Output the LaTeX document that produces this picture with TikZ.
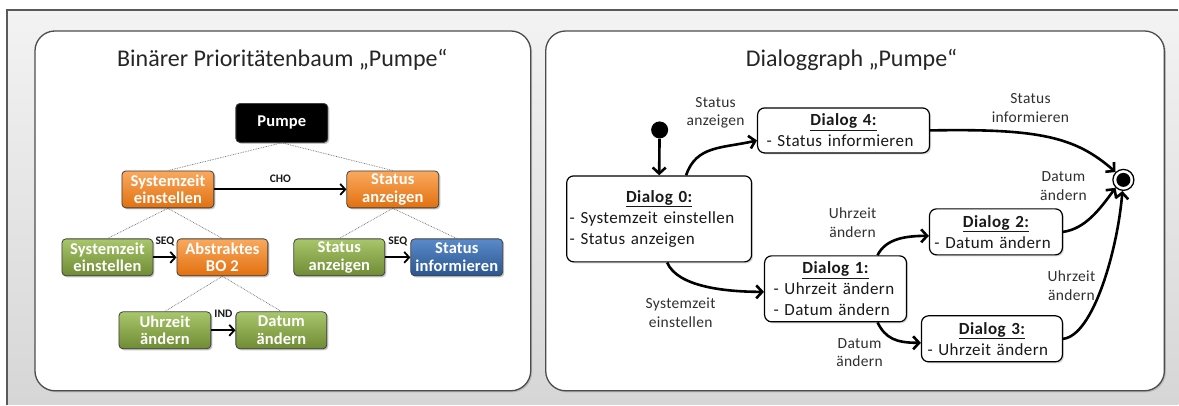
\documentclass[tikz,border=0pt]{standalone}
\usepackage{fontspec}
\setmainfont{Carlito}
\newfontfamily\dlgfont[LetterSpace=2.5]{Carlito}
\newfontfamily\lblfont[LetterSpace=2]{Carlito}
\newfontfamily\trfont[LetterSpace=1]{Carlito}
\usetikzlibrary{arrows.meta,shadows,calc}
\definecolor{orT}{HTML}{FAA95E}
\definecolor{orB}{HTML}{E2700F}
\definecolor{grT}{HTML}{A8C66A}
\definecolor{grB}{HTML}{6F8B35}
\definecolor{blT}{HTML}{5A8ACA}
\definecolor{blB}{HTML}{2A5690}
\definecolor{bgT}{HTML}{F3F3F3}
\definecolor{bgB}{HTML}{D6D6D6}
\definecolor{lbl}{HTML}{303030}
\newcommand{\dtitle}[1]{\makebox[\hsize][c]{\textbf{\underline{#1}}}}
\begin{document}
\begin{tikzpicture}[x=1pt,y=-1pt,
  panel/.style={draw=black!70, line width=1.3pt, fill=white, rounded corners=20pt,
    drop shadow={opacity=0.35, shadow xshift=1.5pt, shadow yshift=-1.5pt}},
  ttl/.style={font=\fontsize{24}{28}\selectfont, text=black!85},
  tbox/.style={draw=black!75, line width=0.8pt, rounded corners=4pt, minimum width=92pt,
    minimum height=37pt, inner sep=1pt, text=white, align=center,
    font=\trfont\fontsize{16.5}{17.5}\selectfont\bfseries,
    drop shadow={opacity=0.45, shadow xshift=1.5pt, shadow yshift=-1.5pt}},
  boxor/.style={tbox, top color=orT, bottom color=orB},
  boxgr/.style={tbox, top color=grT, bottom color=grB},
  boxbl/.style={tbox, top color=blT, bottom color=blB},
  boxbk/.style={tbox, fill=black, minimum height=39pt},
  treeln/.style={draw=black!60, densely dotted, line width=0.7pt},
  tarr/.style={draw=black, line width=1.8pt, -{Straight Barb[length=5pt,width=11pt]}},
  tlab/.style={font=\fontsize{11.5}{12}\selectfont\bfseries, text=black!90, inner sep=0pt},
  dbox/.style={draw=black, line width=1.2pt, fill=white, rounded corners=7pt,
    inner ysep=1pt, align=left,
    font=\dlgfont\fontsize{17}{21}\selectfont, text=black!90,
    drop shadow={opacity=0.3, shadow xshift=1.5pt, shadow yshift=-1.5pt}},
  darr/.style={draw=black, line width=2.6pt, -{Straight Barb[length=6pt,width=13pt]}},
  dlab/.style={font=\lblfont\fontsize{15.5}{18.5}\selectfont, text=lbl, align=center, inner sep=0pt}
]
% background
\fill[white] (0,0) rectangle (1179,405);
\shade[top color=bgT, bottom color=bgB] (7,10) rectangle (1179,405);
\draw[black!65, line width=1.3pt] (7,405) -- (7,10) -- (1179,10);

% panels
\draw[panel] (35,31) rectangle (531,391);
\draw[panel] (546,31) rectangle (1165,391);

\node[ttl] (t1) at (282.5,60) {Binärer Prioritätenbaum „Pumpe“};
\node[ttl] (t2) at (852,60) {Dialoggraph „Pumpe“};

% ---------------- tree
\node[boxbk] (pumpe) at (282,123) {Pumpe};
\node[boxor] (sys1) at (168,189.5) {Systemzeit\\einstellen};
\node[boxor] (stat1) at (393,189.5) {Status\\anzeigen};
\node[boxgr, minimum width=91pt] (sys2) at (107.5,257.5) {Systemzeit\\einstellen};
\node[boxor, minimum width=91pt] (abs) at (222.5,257.5) {Abstraktes\\BO 2};
\node[boxgr, minimum width=91pt] (stat2) at (339.5,257.5) {Status\\anzeigen};
\node[boxbl] (info) at (457,257.5) {Status\\informieren};
\node[boxgr] (uhr) at (165,330.5) {Uhrzeit\\ändern};
\node[boxgr, minimum width=91pt] (dat) at (281.5,330.5) {Datum\\ändern};

\draw[treeln] (pumpe.south) -- (sys1.north);
\draw[treeln] (pumpe.south) -- (stat1.north);
\draw[treeln] (sys1.south) -- (sys2.north);
\draw[treeln] (sys1.south) -- (abs.north);
\draw[treeln] (stat1.south) -- (stat2.north);
\draw[treeln] (stat1.south) -- (info.north);
\draw[treeln] (abs.south) -- (uhr.north);
\draw[treeln] (abs.south) -- (dat.north);

\draw[tarr] (sys1) -- node[tlab, yshift=11pt] (cho) {CHO} (stat1);
\draw[tarr] (sys2) -- node[tlab, yshift=16pt] (seq1) {SEQ} (abs);
\draw[tarr] (stat2) -- node[tlab, yshift=16pt] (seq2) {SEQ} (info);
\draw[tarr] (uhr) -- node[tlab, yshift=17pt] (ind) {IND} (dat);

% ---------------- dialog graph
\node[dbox, inner xsep=3pt, text width=179pt, minimum height=86pt] (d0) at (659.5,219)
  {\dtitle{Dialog 0:}\\- Systemzeit einstellen\\- Status anzeigen};
\node[dbox, inner xsep=9pt, text width=154pt, minimum height=45pt] (d4) at (844,130.5)
  {\dtitle{Dialog 4:}\\- Status informieren};
\node[dbox, inner xsep=9pt, text width=124pt, minimum height=66pt] (d1) at (836,289)
  {\dtitle{Dialog 1:}\\- Uhrzeit ändern\\- Datum ändern};
\node[dbox, inner xsep=5pt, text width=123pt, minimum height=46pt] (d2) at (996.5,232)
  {\dtitle{Dialog 2:}\\- Datum ändern};
\node[dbox, inner xsep=6pt, text width=129pt, minimum height=46pt] (d3) at (992.5,339)
  {\dtitle{Dialog 3:}\\- Uhrzeit ändern};

\node[circle, fill=black, minimum size=17pt, inner sep=0pt] (init) at (660,130) {};
\node[circle, draw=black, line width=1.3pt, fill=white, minimum size=21pt, inner sep=0pt] (fin) at (1124,180) {};
\node[circle, fill=black, minimum size=14pt, inner sep=0pt] (fincore) at (fin.center) {};

\draw[darr] (init) -- (d0.north);
\draw[darr] ([xshift=27pt]d0.north) .. controls +(10,-30) and +(-35,8) .. ([yshift=-10pt]d4.west);
\draw[darr] ([xshift=8pt]d0.south) .. controls +(10,24) and +(-40,0) .. ([yshift=-3pt]d1.west);
\draw[darr] ([xshift=42pt]d1.north) .. controls +(8,-16) and +(-25,0) .. ([yshift=-4pt]d2.west);
\draw[darr] ([xshift=42pt]d1.south) .. controls +(8,16) and +(-25,0) .. ([yshift=-4pt]d3.west);
\draw[darr] (d4.east) .. controls +(110,-2) and +(-40,-35) .. (fin.135);
\draw[darr] (d2.east) .. controls +(22,-3) and +(-16,22) .. (fin.225);
\draw[darr] (d3.east) .. controls +(30,-3) and +(-5,60) .. (fin.265);

\node[dlab] (l04) at (716,113) {Status\\anzeigen};
\node[dlab] (l01) at (681,313) {Systemzeit\\einstellen};
\node[dlab] (l12) at (853,223) {Uhrzeit\\ändern};
\node[dlab] (l13) at (860,353) {Datum\\ändern};
\node[dlab] (l4f) at (1031,108) {Status\\informieren};
\node[dlab] (l2f) at (1064,186) {Datum\\ändern};
\node[dlab] (l3f) at (1072,286) {Uhrzeit\\ändern};
\end{tikzpicture}
\end{document}
